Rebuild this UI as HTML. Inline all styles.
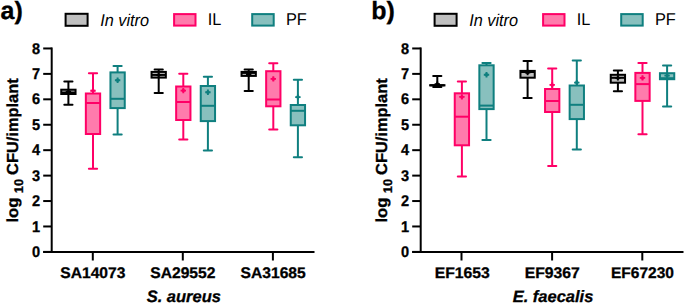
<!DOCTYPE html>
<html><head><meta charset="utf-8"><style>
html,body{margin:0;padding:0;background:#fff;}
body{width:685px;height:303px;overflow:hidden;}
svg{display:block;font-family:"Liberation Sans",sans-serif;text-rendering:geometricPrecision;}
.tk{stroke:#000;stroke-width:0.3px;font-weight:bold;font-size:15.5px;}
.xl{stroke:#000;stroke-width:0.3px;font-weight:bold;font-size:15.4px;}
.sp{stroke:#000;stroke-width:0.3px;font-weight:bold;font-style:italic;font-size:16.5px;}
.yl{stroke:#000;stroke-width:0.3px;font-weight:bold;font-size:16px;}
.sub{stroke:#000;stroke-width:0.3px;font-weight:bold;font-size:12.5px;}
.pl{stroke:#000;stroke-width:0.3px;font-weight:bold;font-size:25px;}
.lg{font-size:17px;}
</style></head><body>
<svg width="685" height="303" viewBox="0 0 685 303">
<line x1="51.7" y1="47.46000000000001" x2="51.7" y2="252.9" stroke="#000" stroke-width="2"/>
<line x1="43.2" y1="251.90" x2="51.7" y2="251.90" stroke="#000" stroke-width="2"/>
<text x="40.0" y="257.00" text-anchor="end" class="tk" textLength="8.1" lengthAdjust="spacingAndGlyphs">0</text>
<line x1="43.2" y1="226.47" x2="51.7" y2="226.47" stroke="#000" stroke-width="2"/>
<text x="40.0" y="231.57" text-anchor="end" class="tk" textLength="8.1" lengthAdjust="spacingAndGlyphs">1</text>
<line x1="43.2" y1="201.04" x2="51.7" y2="201.04" stroke="#000" stroke-width="2"/>
<text x="40.0" y="206.14" text-anchor="end" class="tk" textLength="8.1" lengthAdjust="spacingAndGlyphs">2</text>
<line x1="43.2" y1="175.61" x2="51.7" y2="175.61" stroke="#000" stroke-width="2"/>
<text x="40.0" y="180.71" text-anchor="end" class="tk" textLength="8.1" lengthAdjust="spacingAndGlyphs">3</text>
<line x1="43.2" y1="150.18" x2="51.7" y2="150.18" stroke="#000" stroke-width="2"/>
<text x="40.0" y="155.28" text-anchor="end" class="tk" textLength="8.1" lengthAdjust="spacingAndGlyphs">4</text>
<line x1="43.2" y1="124.75" x2="51.7" y2="124.75" stroke="#000" stroke-width="2"/>
<text x="40.0" y="129.85" text-anchor="end" class="tk" textLength="8.1" lengthAdjust="spacingAndGlyphs">5</text>
<line x1="43.2" y1="99.32" x2="51.7" y2="99.32" stroke="#000" stroke-width="2"/>
<text x="40.0" y="104.42" text-anchor="end" class="tk" textLength="8.1" lengthAdjust="spacingAndGlyphs">6</text>
<line x1="43.2" y1="73.89" x2="51.7" y2="73.89" stroke="#000" stroke-width="2"/>
<text x="40.0" y="78.99" text-anchor="end" class="tk" textLength="8.1" lengthAdjust="spacingAndGlyphs">7</text>
<line x1="43.2" y1="48.46" x2="51.7" y2="48.46" stroke="#000" stroke-width="2"/>
<text x="40.0" y="53.56" text-anchor="end" class="tk" textLength="8.1" lengthAdjust="spacingAndGlyphs">8</text>
<line x1="43.2" y1="251.9" x2="314.5" y2="251.9" stroke="#000" stroke-width="2"/>
<line x1="92.8" y1="251.9" x2="92.8" y2="260.5" stroke="#000" stroke-width="2"/>
<line x1="182.8" y1="251.9" x2="182.8" y2="260.5" stroke="#000" stroke-width="2"/>
<line x1="272.9" y1="251.9" x2="272.9" y2="260.5" stroke="#000" stroke-width="2"/>
<text x="92.85" y="277.6" text-anchor="middle" class="xl" textLength="65.2" lengthAdjust="spacingAndGlyphs">SA14073</text>
<text x="182.85" y="277.6" text-anchor="middle" class="xl" textLength="65.2" lengthAdjust="spacingAndGlyphs">SA29552</text>
<text x="273.15" y="277.6" text-anchor="middle" class="xl" textLength="65.2" lengthAdjust="spacingAndGlyphs">SA31685</text>
<text x="183.8" y="301.5" text-anchor="middle" class="sp">S. aureus</text>
<text transform="translate(17.8 222.57) rotate(-90)" class="yl" textLength="25.0" lengthAdjust="spacingAndGlyphs">log</text>
<text transform="translate(23.3 193.13) rotate(-90)" class="sub" textLength="14.28" lengthAdjust="spacingAndGlyphs">10</text>
<text transform="translate(18.0 174.96) rotate(-90)" class="yl" textLength="96.7" lengthAdjust="spacingAndGlyphs">CFU/implant</text>
<text x="0.5" y="19.0" class="pl">a)</text>
<rect x="65.6" y="13.8" width="22" height="12" fill="#c0c0c0" stroke="#000" stroke-width="2"/>
<text x="100.2" y="25.5" class="lg" font-style="italic" textLength="48.9" lengthAdjust="spacingAndGlyphs">In vitro</text>
<rect x="174.1" y="14.1" width="21.4" height="11.5" fill="#ff7bac" stroke="#ff0066" stroke-width="2"/>
<text x="207.8" y="25.15" class="lg" textLength="13.6" lengthAdjust="spacingAndGlyphs">IL</text>
<rect x="252.2" y="14.1" width="21.5" height="11.5" fill="#88c0be" stroke="#0f7f7f" stroke-width="2"/>
<text x="285.9" y="25.1" class="lg" textLength="20.9" lengthAdjust="spacingAndGlyphs">PF</text>
<line x1="420.7" y1="47.46000000000001" x2="420.7" y2="252.9" stroke="#000" stroke-width="2"/>
<line x1="412.2" y1="251.90" x2="420.7" y2="251.90" stroke="#000" stroke-width="2"/>
<text x="409.0" y="257.00" text-anchor="end" class="tk" textLength="8.1" lengthAdjust="spacingAndGlyphs">0</text>
<line x1="412.2" y1="226.47" x2="420.7" y2="226.47" stroke="#000" stroke-width="2"/>
<text x="409.0" y="231.57" text-anchor="end" class="tk" textLength="8.1" lengthAdjust="spacingAndGlyphs">1</text>
<line x1="412.2" y1="201.04" x2="420.7" y2="201.04" stroke="#000" stroke-width="2"/>
<text x="409.0" y="206.14" text-anchor="end" class="tk" textLength="8.1" lengthAdjust="spacingAndGlyphs">2</text>
<line x1="412.2" y1="175.61" x2="420.7" y2="175.61" stroke="#000" stroke-width="2"/>
<text x="409.0" y="180.71" text-anchor="end" class="tk" textLength="8.1" lengthAdjust="spacingAndGlyphs">3</text>
<line x1="412.2" y1="150.18" x2="420.7" y2="150.18" stroke="#000" stroke-width="2"/>
<text x="409.0" y="155.28" text-anchor="end" class="tk" textLength="8.1" lengthAdjust="spacingAndGlyphs">4</text>
<line x1="412.2" y1="124.75" x2="420.7" y2="124.75" stroke="#000" stroke-width="2"/>
<text x="409.0" y="129.85" text-anchor="end" class="tk" textLength="8.1" lengthAdjust="spacingAndGlyphs">5</text>
<line x1="412.2" y1="99.32" x2="420.7" y2="99.32" stroke="#000" stroke-width="2"/>
<text x="409.0" y="104.42" text-anchor="end" class="tk" textLength="8.1" lengthAdjust="spacingAndGlyphs">6</text>
<line x1="412.2" y1="73.89" x2="420.7" y2="73.89" stroke="#000" stroke-width="2"/>
<text x="409.0" y="78.99" text-anchor="end" class="tk" textLength="8.1" lengthAdjust="spacingAndGlyphs">7</text>
<line x1="412.2" y1="48.46" x2="420.7" y2="48.46" stroke="#000" stroke-width="2"/>
<text x="409.0" y="53.56" text-anchor="end" class="tk" textLength="8.1" lengthAdjust="spacingAndGlyphs">8</text>
<line x1="412.2" y1="251.9" x2="683.5" y2="251.9" stroke="#000" stroke-width="2"/>
<line x1="461.5" y1="251.9" x2="461.5" y2="260.5" stroke="#000" stroke-width="2"/>
<line x1="552.1" y1="251.9" x2="552.1" y2="260.5" stroke="#000" stroke-width="2"/>
<line x1="642.3" y1="251.9" x2="642.3" y2="260.5" stroke="#000" stroke-width="2"/>
<text x="462.25" y="277.6" text-anchor="middle" class="xl" textLength="55.1" lengthAdjust="spacingAndGlyphs">EF1653</text>
<text x="552.25" y="277.6" text-anchor="middle" class="xl" textLength="55.1" lengthAdjust="spacingAndGlyphs">EF9367</text>
<text x="642.5" y="277.6" text-anchor="middle" class="xl" textLength="63.0" lengthAdjust="spacingAndGlyphs">EF67230</text>
<text x="553.0" y="301.5" text-anchor="middle" class="sp">E. faecalis</text>
<text transform="translate(386.8 222.57) rotate(-90)" class="yl" textLength="25.0" lengthAdjust="spacingAndGlyphs">log</text>
<text transform="translate(392.3 193.13) rotate(-90)" class="sub" textLength="14.28" lengthAdjust="spacingAndGlyphs">10</text>
<text transform="translate(387.0 174.96) rotate(-90)" class="yl" textLength="96.7" lengthAdjust="spacingAndGlyphs">CFU/implant</text>
<text x="371.2" y="19.0" class="pl">b)</text>
<rect x="434.6" y="13.8" width="22" height="12" fill="#c0c0c0" stroke="#000" stroke-width="2"/>
<text x="469.2" y="25.5" class="lg" font-style="italic" textLength="48.9" lengthAdjust="spacingAndGlyphs">In vitro</text>
<rect x="543.1" y="14.1" width="21.4" height="11.5" fill="#ff7bac" stroke="#ff0066" stroke-width="2"/>
<text x="576.8" y="25.15" class="lg" textLength="13.6" lengthAdjust="spacingAndGlyphs">IL</text>
<rect x="621.2" y="14.1" width="21.5" height="11.5" fill="#88c0be" stroke="#0f7f7f" stroke-width="2"/>
<text x="654.9" y="25.1" class="lg" textLength="20.9" lengthAdjust="spacingAndGlyphs">PF</text>
<line x1="68.4" y1="81.5" x2="68.4" y2="104.7" stroke="#000000" stroke-width="2.0"/>
<line x1="64.30" y1="81.5" x2="72.50" y2="81.5" stroke="#000000" stroke-width="2.0" stroke-linecap="round"/>
<line x1="64.30" y1="104.7" x2="72.50" y2="104.7" stroke="#000000" stroke-width="2.0" stroke-linecap="round"/>
<rect x="61.25" y="89.7" width="14.30" height="4.30" fill="#c0c0c0" stroke="#000000" stroke-width="2.0"/>
<line x1="61.25" y1="92.6" x2="75.55" y2="92.6" stroke="#000000" stroke-width="2.0"/>
<path d="M65.70 91.7H71.10M68.40 89.00V94.40" stroke="#000000" stroke-width="1.9"/>
<circle cx="68.40" cy="91.7" r="1.75" fill="#000000"/>
<line x1="93.0" y1="73.3" x2="93.0" y2="168.7" stroke="#ff0066" stroke-width="2.0"/>
<line x1="88.90" y1="73.3" x2="97.10" y2="73.3" stroke="#ff0066" stroke-width="2.0" stroke-linecap="round"/>
<line x1="88.90" y1="168.7" x2="97.10" y2="168.7" stroke="#ff0066" stroke-width="2.0" stroke-linecap="round"/>
<rect x="85.85" y="93.5" width="14.30" height="40.50" fill="#ff7bac" stroke="#ff0066" stroke-width="2.0"/>
<line x1="85.85" y1="103.0" x2="100.15" y2="103.0" stroke="#ff0066" stroke-width="2.0"/>
<path d="M90.30 90.8H95.70M93.00 88.10V93.50" stroke="#ff0066" stroke-width="1.9"/>
<circle cx="93.00" cy="90.8" r="1.75" fill="#ff0066"/>
<line x1="117.6" y1="65.9" x2="117.6" y2="134.5" stroke="#0f7f7f" stroke-width="2.0"/>
<line x1="113.50" y1="65.9" x2="121.70" y2="65.9" stroke="#0f7f7f" stroke-width="2.0" stroke-linecap="round"/>
<line x1="113.50" y1="134.5" x2="121.70" y2="134.5" stroke="#0f7f7f" stroke-width="2.0" stroke-linecap="round"/>
<rect x="110.45" y="72.4" width="14.30" height="35.70" fill="#88c0be" stroke="#0f7f7f" stroke-width="2.0"/>
<line x1="110.45" y1="98.8" x2="124.75" y2="98.8" stroke="#0f7f7f" stroke-width="2.0"/>
<path d="M114.90 80.3H120.30M117.60 77.60V83.00" stroke="#0f7f7f" stroke-width="1.9"/>
<circle cx="117.60" cy="80.3" r="1.75" fill="#0f7f7f"/>
<line x1="158.70000000000002" y1="69.5" x2="158.70000000000002" y2="93.0" stroke="#000000" stroke-width="2.0"/>
<line x1="154.60" y1="69.5" x2="162.80" y2="69.5" stroke="#000000" stroke-width="2.0" stroke-linecap="round"/>
<line x1="154.60" y1="93.0" x2="162.80" y2="93.0" stroke="#000000" stroke-width="2.0" stroke-linecap="round"/>
<rect x="151.55" y="71.9" width="14.30" height="5.70" fill="#c0c0c0" stroke="#000000" stroke-width="2.0"/>
<line x1="151.55" y1="74.9" x2="165.85" y2="74.9" stroke="#000000" stroke-width="2.0"/>
<path d="M156.00 74.9H161.40M158.70 72.20V77.60" stroke="#000000" stroke-width="1.9"/>
<circle cx="158.70" cy="74.9" r="1.75" fill="#000000"/>
<line x1="183.3" y1="73.7" x2="183.3" y2="139.6" stroke="#ff0066" stroke-width="2.0"/>
<line x1="179.20" y1="73.7" x2="187.40" y2="73.7" stroke="#ff0066" stroke-width="2.0" stroke-linecap="round"/>
<line x1="179.20" y1="139.6" x2="187.40" y2="139.6" stroke="#ff0066" stroke-width="2.0" stroke-linecap="round"/>
<rect x="176.15" y="86.5" width="14.30" height="33.50" fill="#ff7bac" stroke="#ff0066" stroke-width="2.0"/>
<line x1="176.15" y1="102.0" x2="190.45" y2="102.0" stroke="#ff0066" stroke-width="2.0"/>
<path d="M180.60 90.6H186.00M183.30 87.90V93.30" stroke="#ff0066" stroke-width="1.9"/>
<circle cx="183.30" cy="90.6" r="1.75" fill="#ff0066"/>
<line x1="207.9" y1="76.7" x2="207.9" y2="150.6" stroke="#0f7f7f" stroke-width="2.0"/>
<line x1="203.80" y1="76.7" x2="212.00" y2="76.7" stroke="#0f7f7f" stroke-width="2.0" stroke-linecap="round"/>
<line x1="203.80" y1="150.6" x2="212.00" y2="150.6" stroke="#0f7f7f" stroke-width="2.0" stroke-linecap="round"/>
<rect x="200.75" y="86.0" width="14.30" height="35.10" fill="#88c0be" stroke="#0f7f7f" stroke-width="2.0"/>
<line x1="200.75" y1="105.8" x2="215.05" y2="105.8" stroke="#0f7f7f" stroke-width="2.0"/>
<path d="M205.20 92.2H210.60M207.90 89.50V94.90" stroke="#0f7f7f" stroke-width="1.9"/>
<circle cx="207.90" cy="92.2" r="1.75" fill="#0f7f7f"/>
<line x1="248.70000000000002" y1="69.5" x2="248.70000000000002" y2="91.1" stroke="#000000" stroke-width="2.0"/>
<line x1="244.60" y1="69.5" x2="252.80" y2="69.5" stroke="#000000" stroke-width="2.0" stroke-linecap="round"/>
<line x1="244.60" y1="91.1" x2="252.80" y2="91.1" stroke="#000000" stroke-width="2.0" stroke-linecap="round"/>
<rect x="241.55" y="71.9" width="14.30" height="4.00" fill="#c0c0c0" stroke="#000000" stroke-width="2.0"/>
<line x1="241.55" y1="72.9" x2="255.85" y2="72.9" stroke="#000000" stroke-width="2.0"/>
<path d="M246.00 74.3H251.40M248.70 71.60V77.00" stroke="#000000" stroke-width="1.9"/>
<circle cx="248.70" cy="74.3" r="1.75" fill="#000000"/>
<line x1="273.3" y1="63.2" x2="273.3" y2="129.4" stroke="#ff0066" stroke-width="2.0"/>
<line x1="269.20" y1="63.2" x2="277.40" y2="63.2" stroke="#ff0066" stroke-width="2.0" stroke-linecap="round"/>
<line x1="269.20" y1="129.4" x2="277.40" y2="129.4" stroke="#ff0066" stroke-width="2.0" stroke-linecap="round"/>
<rect x="266.15" y="71.2" width="14.30" height="35.10" fill="#ff7bac" stroke="#ff0066" stroke-width="2.0"/>
<line x1="266.15" y1="99.5" x2="280.45" y2="99.5" stroke="#ff0066" stroke-width="2.0"/>
<path d="M270.60 78.9H276.00M273.30 76.20V81.60" stroke="#ff0066" stroke-width="1.9"/>
<circle cx="273.30" cy="78.9" r="1.75" fill="#ff0066"/>
<line x1="297.90000000000003" y1="79.8" x2="297.90000000000003" y2="157.3" stroke="#0f7f7f" stroke-width="2.0"/>
<line x1="293.80" y1="79.8" x2="302.00" y2="79.8" stroke="#0f7f7f" stroke-width="2.0" stroke-linecap="round"/>
<line x1="293.80" y1="157.3" x2="302.00" y2="157.3" stroke="#0f7f7f" stroke-width="2.0" stroke-linecap="round"/>
<rect x="290.75" y="105.0" width="14.30" height="20.30" fill="#88c0be" stroke="#0f7f7f" stroke-width="2.0"/>
<line x1="290.75" y1="110.8" x2="305.05" y2="110.8" stroke="#0f7f7f" stroke-width="2.0"/>
<path d="M295.20 97.1H300.60M297.90 94.40V99.80" stroke="#0f7f7f" stroke-width="1.9"/>
<circle cx="297.90" cy="97.1" r="1.75" fill="#0f7f7f"/>
<line x1="437.29999999999995" y1="75.9" x2="437.29999999999995" y2="87.0" stroke="#000000" stroke-width="2.0"/>
<line x1="433.20" y1="75.9" x2="441.40" y2="75.9" stroke="#000000" stroke-width="2.0" stroke-linecap="round"/>
<line x1="433.20" y1="87.0" x2="441.40" y2="87.0" stroke="#000000" stroke-width="2.0" stroke-linecap="round"/>
<rect x="430.15" y="85.2" width="14.30" height="0.20" fill="#c0c0c0" stroke="#000000" stroke-width="2.0"/>
<line x1="430.15" y1="85.3" x2="444.45" y2="85.3" stroke="#000000" stroke-width="2.0"/>
<path d="M434.60 84.2H440.00M437.30 81.50V86.90" stroke="#000000" stroke-width="1.9"/>
<circle cx="437.30" cy="84.2" r="1.75" fill="#000000"/>
<line x1="461.9" y1="81.5" x2="461.9" y2="176.6" stroke="#ff0066" stroke-width="2.0"/>
<line x1="457.80" y1="81.5" x2="466.00" y2="81.5" stroke="#ff0066" stroke-width="2.0" stroke-linecap="round"/>
<line x1="457.80" y1="176.6" x2="466.00" y2="176.6" stroke="#ff0066" stroke-width="2.0" stroke-linecap="round"/>
<rect x="454.75" y="93.3" width="14.30" height="52.00" fill="#ff7bac" stroke="#ff0066" stroke-width="2.0"/>
<line x1="454.75" y1="116.7" x2="469.05" y2="116.7" stroke="#ff0066" stroke-width="2.0"/>
<path d="M459.20 96.9H464.60M461.90 94.20V99.60" stroke="#ff0066" stroke-width="1.9"/>
<circle cx="461.90" cy="96.9" r="1.75" fill="#ff0066"/>
<line x1="486.5" y1="62.9" x2="486.5" y2="140.0" stroke="#0f7f7f" stroke-width="2.0"/>
<line x1="482.40" y1="62.9" x2="490.60" y2="62.9" stroke="#0f7f7f" stroke-width="2.0" stroke-linecap="round"/>
<line x1="482.40" y1="140.0" x2="490.60" y2="140.0" stroke="#0f7f7f" stroke-width="2.0" stroke-linecap="round"/>
<rect x="479.35" y="65.3" width="14.30" height="43.80" fill="#88c0be" stroke="#0f7f7f" stroke-width="2.0"/>
<line x1="479.35" y1="105.6" x2="493.65" y2="105.6" stroke="#0f7f7f" stroke-width="2.0"/>
<path d="M483.80 74.8H489.20M486.50 72.10V77.50" stroke="#0f7f7f" stroke-width="1.9"/>
<circle cx="486.50" cy="74.8" r="1.75" fill="#0f7f7f"/>
<line x1="527.6" y1="60.9" x2="527.6" y2="97.9" stroke="#000000" stroke-width="2.0"/>
<line x1="523.50" y1="60.9" x2="531.70" y2="60.9" stroke="#000000" stroke-width="2.0" stroke-linecap="round"/>
<line x1="523.50" y1="97.9" x2="531.70" y2="97.9" stroke="#000000" stroke-width="2.0" stroke-linecap="round"/>
<rect x="520.45" y="70.9" width="14.30" height="6.80" fill="#c0c0c0" stroke="#000000" stroke-width="2.0"/>
<line x1="520.45" y1="72.0" x2="534.75" y2="72.0" stroke="#000000" stroke-width="2.0"/>
<path d="M524.90 72.5H530.30M527.60 69.80V75.20" stroke="#000000" stroke-width="1.9"/>
<circle cx="527.60" cy="72.5" r="1.75" fill="#000000"/>
<line x1="552.2" y1="68.6" x2="552.2" y2="166.0" stroke="#ff0066" stroke-width="2.0"/>
<line x1="548.10" y1="68.6" x2="556.30" y2="68.6" stroke="#ff0066" stroke-width="2.0" stroke-linecap="round"/>
<line x1="548.10" y1="166.0" x2="556.30" y2="166.0" stroke="#ff0066" stroke-width="2.0" stroke-linecap="round"/>
<rect x="545.05" y="89.0" width="14.30" height="23.00" fill="#ff7bac" stroke="#ff0066" stroke-width="2.0"/>
<line x1="545.05" y1="101.0" x2="559.35" y2="101.0" stroke="#ff0066" stroke-width="2.0"/>
<path d="M549.50 84.9H554.90M552.20 82.20V87.60" stroke="#ff0066" stroke-width="1.9"/>
<circle cx="552.20" cy="84.9" r="1.75" fill="#ff0066"/>
<line x1="576.8000000000001" y1="60.5" x2="576.8000000000001" y2="149.6" stroke="#0f7f7f" stroke-width="2.0"/>
<line x1="572.70" y1="60.5" x2="580.90" y2="60.5" stroke="#0f7f7f" stroke-width="2.0" stroke-linecap="round"/>
<line x1="572.70" y1="149.6" x2="580.90" y2="149.6" stroke="#0f7f7f" stroke-width="2.0" stroke-linecap="round"/>
<rect x="569.65" y="85.5" width="14.30" height="33.60" fill="#88c0be" stroke="#0f7f7f" stroke-width="2.0"/>
<line x1="569.65" y1="104.8" x2="583.95" y2="104.8" stroke="#0f7f7f" stroke-width="2.0"/>
<path d="M574.10 82.6H579.50M576.80 79.90V85.30" stroke="#0f7f7f" stroke-width="1.9"/>
<circle cx="576.80" cy="82.6" r="1.75" fill="#0f7f7f"/>
<line x1="617.9" y1="70.4" x2="617.9" y2="91.2" stroke="#000000" stroke-width="2.0"/>
<line x1="613.80" y1="70.4" x2="622.00" y2="70.4" stroke="#000000" stroke-width="2.0" stroke-linecap="round"/>
<line x1="613.80" y1="91.2" x2="622.00" y2="91.2" stroke="#000000" stroke-width="2.0" stroke-linecap="round"/>
<rect x="610.75" y="74.8" width="14.30" height="7.90" fill="#c0c0c0" stroke="#000000" stroke-width="2.0"/>
<line x1="610.75" y1="77.8" x2="625.05" y2="77.8" stroke="#000000" stroke-width="2.0"/>
<path d="M615.20 77.9H620.60M617.90 75.20V80.60" stroke="#000000" stroke-width="1.9"/>
<circle cx="617.90" cy="77.9" r="1.75" fill="#000000"/>
<line x1="642.5" y1="62.9" x2="642.5" y2="134.3" stroke="#ff0066" stroke-width="2.0"/>
<line x1="638.40" y1="62.9" x2="646.60" y2="62.9" stroke="#ff0066" stroke-width="2.0" stroke-linecap="round"/>
<line x1="638.40" y1="134.3" x2="646.60" y2="134.3" stroke="#ff0066" stroke-width="2.0" stroke-linecap="round"/>
<rect x="635.35" y="72.9" width="14.30" height="28.00" fill="#ff7bac" stroke="#ff0066" stroke-width="2.0"/>
<line x1="635.35" y1="84.1" x2="649.65" y2="84.1" stroke="#ff0066" stroke-width="2.0"/>
<path d="M639.80 77.9H645.20M642.50 75.20V80.60" stroke="#ff0066" stroke-width="1.9"/>
<circle cx="642.50" cy="77.9" r="1.75" fill="#ff0066"/>
<line x1="667.1" y1="65.5" x2="667.1" y2="106.6" stroke="#0f7f7f" stroke-width="2.0"/>
<line x1="663.00" y1="65.5" x2="671.20" y2="65.5" stroke="#0f7f7f" stroke-width="2.0" stroke-linecap="round"/>
<line x1="663.00" y1="106.6" x2="671.20" y2="106.6" stroke="#0f7f7f" stroke-width="2.0" stroke-linecap="round"/>
<rect x="659.95" y="73.2" width="14.30" height="6.00" fill="#88c0be" stroke="#0f7f7f" stroke-width="2.0"/>
<line x1="659.95" y1="78.2" x2="674.25" y2="78.2" stroke="#0f7f7f" stroke-width="2.0"/>
<path d="M664.40 75.6H669.80M667.10 72.90V78.30" stroke="#0f7f7f" stroke-width="1.9"/>
<circle cx="667.10" cy="75.6" r="1.75" fill="#0f7f7f"/>
</svg>
</body></html>
